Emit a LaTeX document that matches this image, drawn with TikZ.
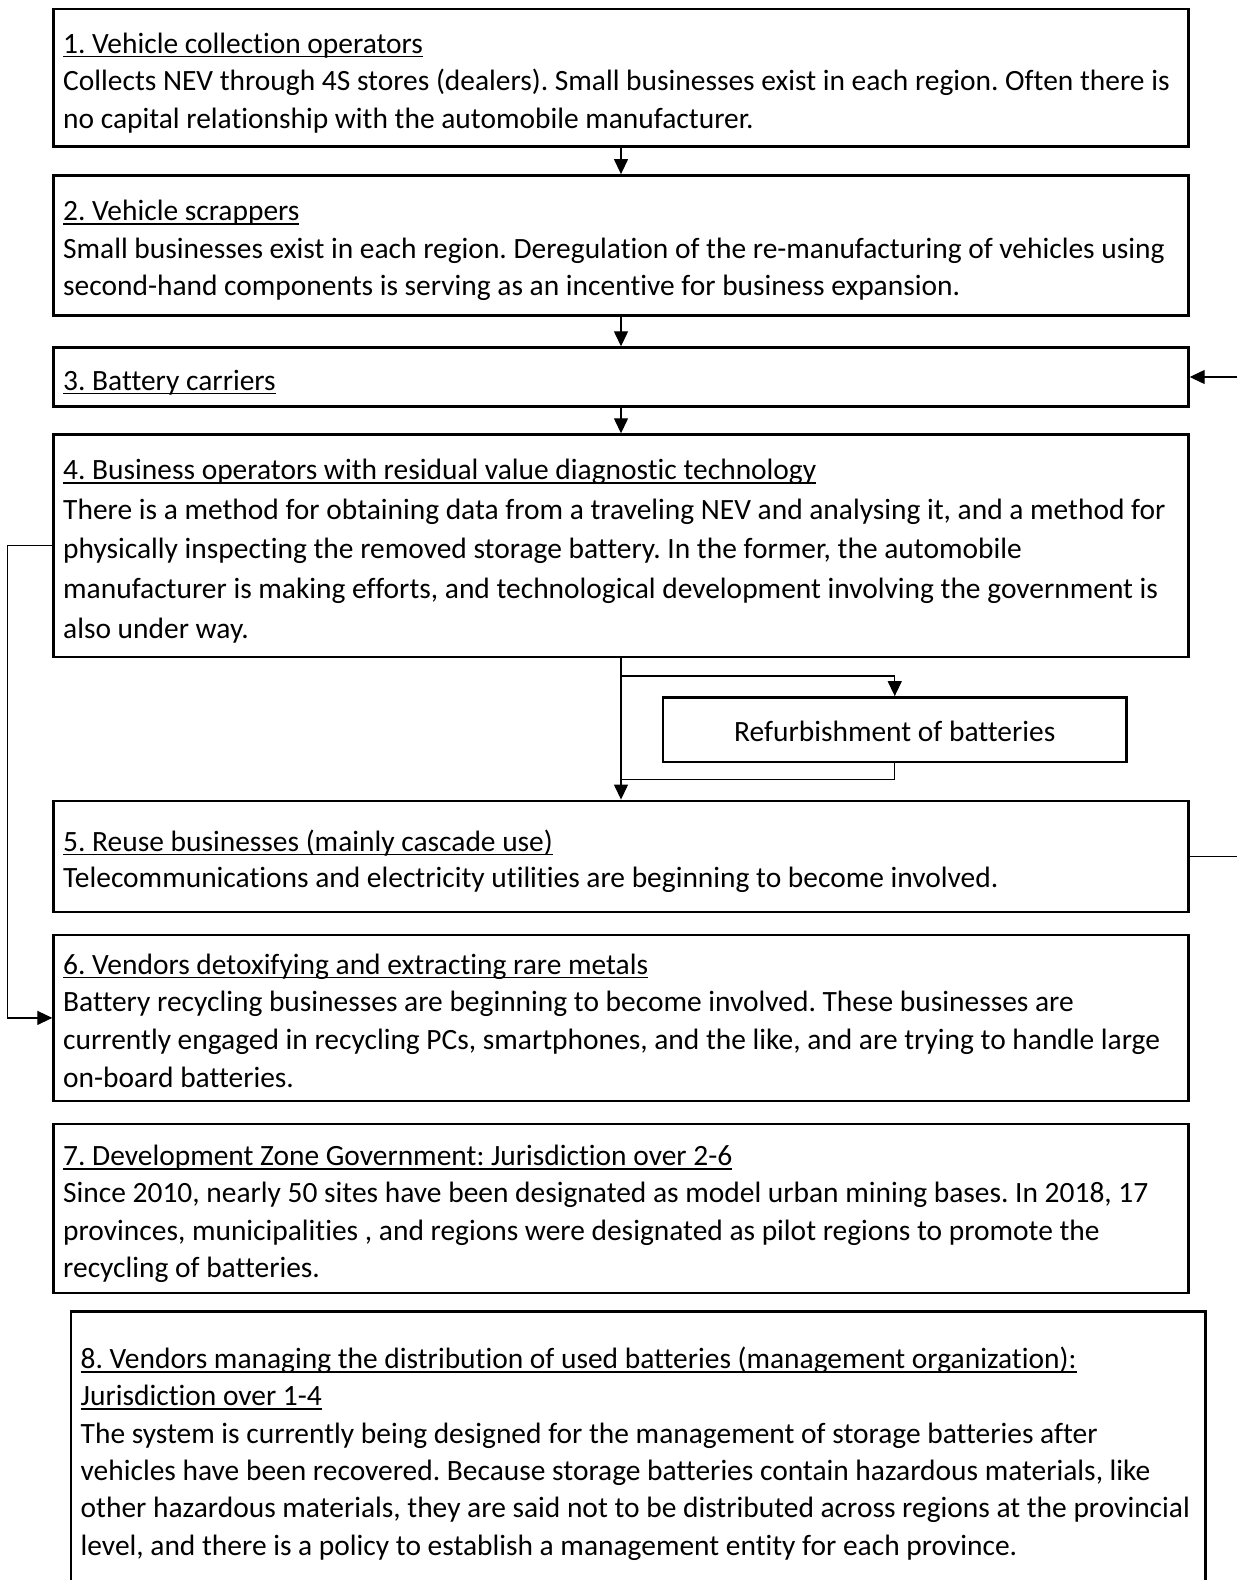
\documentclass[tikz,border=0pt]{standalone}
\usepackage{fontspec}
\setmainfont{Carlito}[Ligatures={NoCommon,NoContextual}]
\usetikzlibrary{arrows.meta}
\frenchspacing
\newcommand\ulx[1]{\leavevmode\setbox0\hbox{#1}\rlap{\rule[-4pt]{\wd0}{1.5pt}}\box0}
\tikzset{
  box/.style={draw, line width=2.4pt, rectangle, inner sep=0pt, minimum width=1135pt},
  conn/.style={line width=1.3pt},
  tip/.style={-{Triangle[length=15pt,width=14pt]}},
  txt/.style={anchor=base west, inner sep=0pt, font=\fontsize{29.45}{37.5}\selectfont},
}
\begin{document}
\begin{tikzpicture}[x=1pt,y=-1pt]
\useasboundingbox (0,0) rectangle (1237,1580);
\fill[white] (0,0) rectangle (1237,1580);
% boxes
\node[box, minimum height=137.5pt] (b1) at (621,77.75) {};
\node[box, minimum height=140pt] (b2) at (621,245.3) {};
\node[box, minimum height=59pt] (b3) at (621,377) {};
\node[box, minimum height=222.5pt] (b4) at (621,545.75) {};
\node[box, minimum width=463.5pt, minimum height=64.4pt, text height=23pt, text depth=0pt, font=\fontsize{29.45}{36}\selectfont] (rf) at (894.75,729.5) {Refurbishment of batteries};
\node[box, minimum height=111.3pt] (b5) at (621,856.4) {};
\node[box, minimum height=166.2pt] (b6) at (621,1017.9) {};
\node[box, minimum height=169pt] (b7) at (621,1208.5) {};
\node[box, minimum width=1134.5pt, minimum height=320pt] (b8) at (638.25,1471.5) {};
% texts
\node[txt] (t1) at (63,53.2) {\parbox[t]{1140pt}{\ulx{1. Vehicle collection operators}\\
Collects NEV through 4S stores (dealers). Small businesses exist in each region. Often there is\\
no capital relationship with the automobile manufacturer.}};
\node[txt] (t2) at (63,220.5) {\parbox[t]{1140pt}{\ulx{2. Vehicle scrappers}\\
Small businesses exist in each region. Deregulation of the re-manufacturing of vehicles using\\
second-hand components is serving as an incentive for business expansion.}};
\node[txt] (t3) at (63,390) {\parbox[t]{1140pt}{\ulx{3. Battery carriers}}};
\node[txt, font=\fontsize{29.45}{39.7}\selectfont] (t4) at (63,479.5) {\parbox[t]{1140pt}{\ulx{4. Business operators with residual value diagnostic technology}\\
There is a method for obtaining data from a traveling NEV and analysing it, and a method for\\
physically inspecting the removed storage battery. In the former, the automobile\\
manufacturer is making efforts, and technological development involving the government is\\
also under way.}};
\node[txt, font=\fontsize{29.45}{36.5}\selectfont] (t5) at (63,851) {\parbox[t]{1140pt}{\ulx{5. Reuse businesses (mainly cascade use)}\\
Telecommunications and electricity utilities are beginning to become involved.}};
\node[txt, font=\fontsize{29.45}{37.8}\selectfont] (t6) at (63,974) {\parbox[t]{1140pt}{\ulx{6. Vendors detoxifying and extracting rare metals}\\
Battery recycling businesses are beginning to become involved. These businesses are\\
currently engaged in recycling PCs, smartphones, and the like, and are trying to handle large\\
on-board batteries.}};
\node[txt, font=\fontsize{29.45}{37.3}\selectfont] (t7) at (63,1165.5) {\parbox[t]{1140pt}{\ulx{7. Development Zone Government: Jurisdiction over 2-6}\\
Since 2010, nearly 50 sites have been designated as model urban mining bases. In 2018, 17\\
provinces, municipalities , and regions were designated as pilot regions to promote the\\
recycling of batteries.}};
\node[txt, font=\fontsize{29.45}{37.3}\selectfont] (t8) at (80.5,1368.5) {\parbox[t]{1140pt}{\ulx{8. Vendors managing the distribution of used batteries (management organization):}\\
\ulx{Jurisdiction over 1-4}\\
The system is currently being designed for the management of storage batteries after\\
vehicles have been recovered. Because storage batteries contain hazardous materials, like\\
other hazardous materials, they are said not to be distributed across regions at the provincial\\
level, and there is a policy to establish a management entity for each province.}};
% connectors
\draw[conn,tip] (b1.south) -- (b2.north);
\draw[conn,tip] (b2.south) -- (b3.north);
\draw[conn,tip] (b3.south) -- (b4.north);
\draw[conn,tip] (b4.south) -- (b5.north);
\path (rf.north) ++(0,-20) coordinate (rfin);
\path (b5.north) ++(0,-20) coordinate (rj);
\draw[conn,tip] (b4.south) |- (rfin) -- (rf.north);
\draw[conn] (rf.south) |- (rj);
\draw[conn,tip] (b4.west) -- ++(-44.6,0) |- (b6.west);
\draw[conn,tip] (b5.east) -- ++(62,0) |- (b3.east);
\end{tikzpicture}
\end{document}
